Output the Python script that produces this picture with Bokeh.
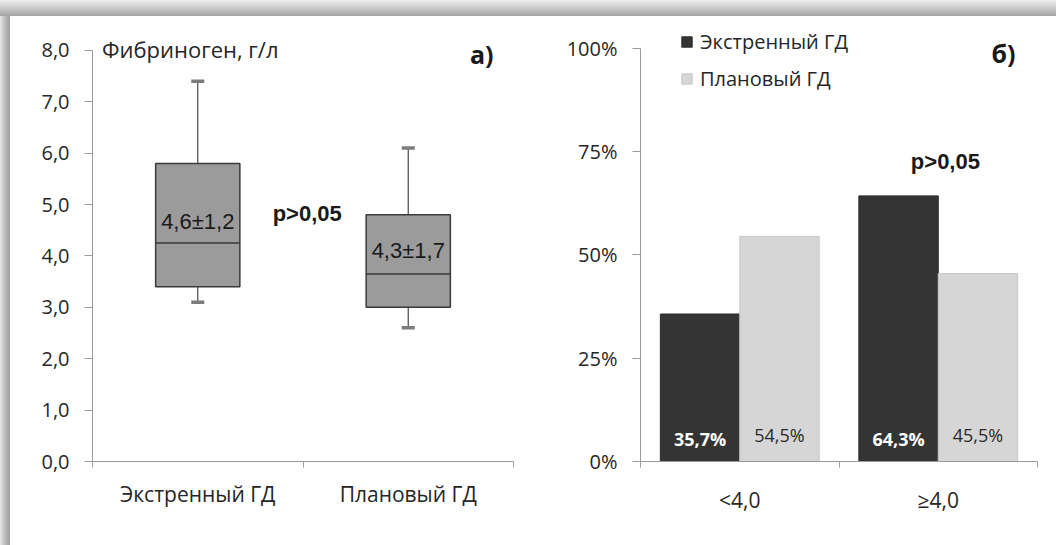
from bokeh.plotting import figure
from bokeh.models import (Range1d, FixedTicker, CustomJSTickFormatter, Label,
                          Legend, LegendItem, Div, ColumnDataSource)
from bokeh.core.properties import value
from bokeh.layouts import row, column
from bokeh.embed import file_html
from bokeh.resources import INLINE

# ---- panel а): fibrinogen box plots ----
groups = ["Экстренный ГД", "Плановый ГД"]
q1 = [3.4, 3.0]
median = [4.25, 3.65]
q3 = [5.8, 4.8]
whisker_low = [3.1, 2.6]
whisker_high = [7.4, 6.1]
mean_sd = ["4,6±1,2", "4,3±1,7"]
mean_sd_y = [4.66, 4.10]
fib_ticks = [0, 1, 2, 3, 4, 5, 6, 7, 8]

# ---- panel б): share of patients by fibrinogen level ----
levels = ["<4,0", "≥4,0"]
urgent_pct = [35.7, 64.3]
planned_pct = [54.5, 45.5]
pct_ticks = [0, 25, 50, 75, 100]

TXT = "#262626"
AXIS = "#9a9a9a"
SANS = "Open Sans"
ARIAL = "Liberation Sans"
H = 529
FS = "20px"
FS_CAT = "21px"


def style_axes(p, tick_fmt, bounds):
    ya = p.yaxis[0]
    ya.bounds = bounds
    ya.axis_line_color = AXIS
    ya.major_tick_line_color = AXIS
    ya.major_tick_in = 0
    ya.major_tick_out = 8
    ya.minor_tick_line_color = None
    ya.major_label_standoff = 15
    ya.major_label_text_font = SANS
    ya.major_label_text_font_size = FS
    ya.major_label_text_color = TXT
    ya.formatter = CustomJSTickFormatter(code=tick_fmt)

    xa = p.xaxis[0]
    xa.axis_line_color = AXIS
    xa.major_tick_line_color = None
    xa.major_tick_in = 0
    xa.major_tick_out = 6
    xa.minor_tick_line_color = AXIS
    xa.minor_tick_in = 0
    xa.minor_tick_out = 6
    xa.major_label_text_font = SANS
    xa.major_label_text_font_size = FS_CAT
    xa.major_label_text_color = TXT
    p.xgrid.visible = False
    p.ygrid.visible = False
    p.outline_line_color = None
    p.background_fill_color = "white"
    p.border_fill_color = "white"


# ================= panel а) =================
p1 = figure(width=520, height=H, output_backend="svg", toolbar_location=None,
            x_range=Range1d(0, 2), y_range=Range1d(0, 8.6),
            min_border_left=82, min_border_right=17,
            min_border_top=2, min_border_bottom=84)
p1.xaxis.ticker = FixedTicker(ticks=[0.5, 1.5], minor_ticks=[0, 1, 2])
p1.xaxis.major_label_overrides = {0.5: groups[0], 1.5: groups[1]}
p1.xaxis.major_label_standoff = 12
p1.yaxis.ticker = FixedTicker(ticks=fib_ticks, minor_ticks=[])
style_axes(p1, "return tick.toFixed(1).replace('.', ',');", (0, 8))

xc = [i + 0.5 for i in range(len(groups))]
box_src = ColumnDataSource(dict(x=xc, q1=q1, q3=q3, med=median,
                                lo=whisker_low, hi=whisker_high))
p1.segment(x0="x", y0="q3", x1="x", y1="hi", source=box_src,
           line_color="#555555", line_width=1.3)
p1.segment(x0="x", y0="lo", x1="x", y1="q1", source=box_src,
           line_color="#555555", line_width=1.3)
p1.vbar(x="x", width=0.4, bottom="q1", top="q3", source=box_src,
        fill_color="#9b9b9b", line_color="#3a3a3a", line_width=1.5)
p1.vbar(x="x", width=0.4, bottom="med", top="med", source=box_src,
        fill_color=None, line_color="#3a3a3a", line_width=1.5)
p1.scatter(x="x", y="hi", source=box_src, marker="dash", size=13,
           line_color="#7c7c7c", line_width=3.5)
p1.scatter(x="x", y="lo", source=box_src, marker="dash", size=13,
           line_color="#7c7c7c", line_width=3.5)

for xi, t, yi in zip(xc, mean_sd, mean_sd_y):
    p1.add_layout(Label(x=xi, y=yi, text=t, text_align="center",
                        text_baseline="middle", text_font=ARIAL,
                        text_font_size="22px", text_color="#1a1a1a"))
p1.add_layout(Label(x=1.02, y=4.83, text="p>0,05", text_align="center",
                    text_baseline="middle", text_font=ARIAL,
                    text_font_style="bold", text_font_size="22px",
                    text_color="#1a1a1a"))
p1.add_layout(Label(x=0.045, y=8.02, text="Фибриноген, г/л", text_align="left",
                    text_baseline="middle", text_font=SANS,
                    text_font_size="22px", text_color=TXT))
p1.add_layout(Label(x=1.905, y=7.92, text="а)", text_align="right",
                    text_baseline="middle", text_font=SANS,
                    text_font_style="bold", text_font_size="25px",
                    text_color="#1a1a1a"))

# ================= panel б) =================
p2 = figure(width=526, height=H, output_backend="svg", toolbar_location=None,
            x_range=Range1d(0, 2), y_range=Range1d(0, 107),
            min_border_left=110, min_border_right=19,
            min_border_top=3, min_border_bottom=80)
p2.xaxis.ticker = FixedTicker(ticks=[0.5, 1.5], minor_ticks=[0, 1, 2])
p2.xaxis.major_label_overrides = {0.5: levels[0], 1.5: levels[1]}
p2.xaxis.major_label_standoff = 18
p2.yaxis.ticker = FixedTicker(ticks=pct_ticks, minor_ticks=[])
style_axes(p2, "return tick.toFixed(0) + '%';", (0, 100))

bx = [i + 0.5 for i in range(len(levels))]
bar_src = ColumnDataSource(dict(
    xu=[v - 0.2 for v in bx], xp=[v + 0.2 for v in bx],
    urgent=urgent_pct, planned=planned_pct,
    lu=[f"{v:.1f}%".replace(".", ",") for v in urgent_pct],
    lp=[f"{v:.1f}%".replace(".", ",") for v in planned_pct],
))
r_urg = p2.vbar(x="xu", width=0.4, top="urgent", bottom=0, source=bar_src,
                fill_color="#343434", line_color="#2a2a2a", line_width=1)
r_pln = p2.vbar(x="xp", width=0.4, top="planned", bottom=0, source=bar_src,
                fill_color="#d6d6d6", line_color="#c8c8c8", line_width=1)
p2.text(x="xu", y=5.5, text="lu", source=bar_src, text_align="center",
        text_baseline="middle", text_font=value(SANS),
        text_font_style="bold", text_font_size="18px", text_color="white")
p2.text(x="xp", y=6.4, text="lp", source=bar_src, text_align="center",
        text_baseline="middle", text_font=value(SANS),
        text_font_size="18px", text_color="#2a2a2a")

p2.add_layout(Label(x=1.536, y=72.7, text="p>0,05", text_align="center",
                    text_baseline="middle", text_font=ARIAL,
                    text_font_style="bold", text_font_size="22px",
                    text_color="#1a1a1a"))
p2.add_layout(Label(x=1.889, y=98.8, text="б)", text_align="right",
                    text_baseline="middle", text_font=SANS,
                    text_font_style="bold", text_font_size="25px",
                    text_color="#1a1a1a"))

legend = Legend(items=[LegendItem(label="Экстренный ГД", renderers=[r_urg]),
                       LegendItem(label="Плановый ГД", renderers=[r_pln])],
                location=(40, 369), orientation="vertical",
                glyph_width=13, glyph_height=13, label_height=22,
                spacing=10, padding=0, margin=0, label_standoff=7,
                label_text_font=SANS, label_text_font_size=FS,
                label_text_color=TXT, border_line_color=None,
                background_fill_alpha=0)
p2.add_layout(legend)

# ---- drop-shadow frame around the figure panel ----
top_band = Div(text="", width=1056, height=16, margin=0, styles={
    "background": "linear-gradient(to bottom, #eeeeee, #cccccc 50%, #a4a4a4)"})
left_band = Div(text="", width=10, height=H, margin=0, styles={
    "background": "linear-gradient(to right, #e6e6e6, #b8b8b8 55%, #a0a0a0)"})

layout = column(top_band, row(left_band, p1, p2, spacing=0), spacing=0)

open("out.html", "w").write(file_html(layout, INLINE))
